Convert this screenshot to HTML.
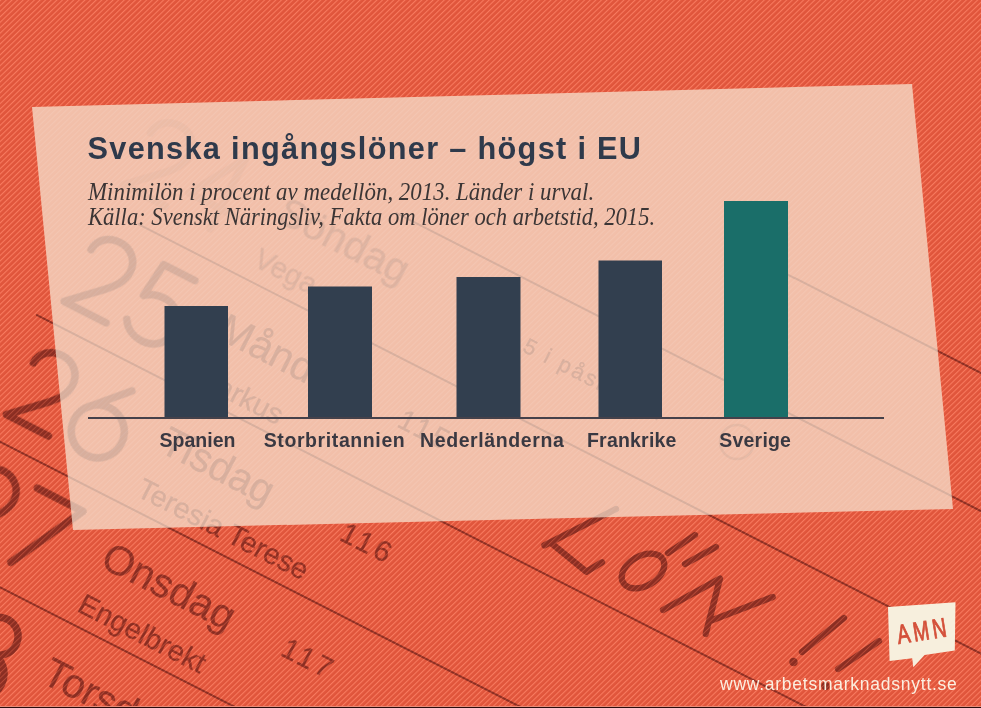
<!DOCTYPE html>
<html><head><meta charset="utf-8">
<style>
html,body{margin:0;padding:0;width:981px;height:708px;overflow:hidden;background:#e2563d;}
svg{display:block;font-family:"Liberation Sans",sans-serif;}
</style></head><body>
<svg width="981" height="708" viewBox="0 0 981 708">
<defs>
<pattern id="str" width="8" height="3.9" patternUnits="userSpaceOnUse" patternTransform="rotate(-44)">
<rect width="8" height="3.9" fill="#e0553b"/>
<rect y="0" width="8" height="1.1" fill="#f87a5f"/>
</pattern>
<pattern id="pstr" width="8" height="3.9" patternUnits="userSpaceOnUse" patternTransform="rotate(-44)">
<rect width="8" height="1.1" fill="#ffffff" fill-opacity="0.1"/>
</pattern>
<pattern id="mstr" width="8" height="3.9" patternUnits="userSpaceOnUse" patternTransform="rotate(-44)">
<rect width="8" height="3.9" fill="#ffffff"/>
<rect y="0" width="8" height="1.1" fill="#a0a0a0"/>
</pattern>
<mask id="mk" maskUnits="userSpaceOnUse" x="0" y="0" width="981" height="708"><rect width="981" height="708" fill="url(#mstr)"/></mask>
<clipPath id="pc"><polygon points="32,107 912,84 953,509 73,530"/></clipPath>
<g id="cal" font-family="Liberation Sans" stroke-linecap="round" stroke-linejoin="round">
<g transform="rotate(27.0)">
<g fill="none" stroke="currentColor" stroke-width="7.5">
<path transform="translate(190,112)" d="M4.5,-62 C5,-74 15,-81.5 27,-81.5 C40,-81.5 49.5,-72 49.5,-60 C49.5,-49 43,-41 35,-33 L4,-3.5 L51,-3.5" opacity="0.22"/><path transform="translate(253,112)" d="M38,-3.5 L38,-81.5 L3,-26 L54,-26" opacity="0.22"/><path transform="translate(190,243)" d="M4.5,-62 C5,-74 15,-81.5 27,-81.5 C40,-81.5 49.5,-72 49.5,-60 C49.5,-49 43,-41 35,-33 L4,-3.5 L51,-3.5"/><path transform="translate(253,243)" d="M48,-81.5 L13,-81.5 L9,-45 C15,-50 22,-52 29,-52 C43,-52 52,-41 52,-27 C52,-13 42,-3.5 28,-3.5 C17,-3.5 9,-9 5,-16"/><path transform="translate(190,370)" d="M4.5,-62 C5,-74 15,-81.5 27,-81.5 C40,-81.5 49.5,-72 49.5,-60 C49.5,-49 43,-41 35,-33 L4,-3.5 L51,-3.5"/><path transform="translate(253,370)" d="M42,-81.5 L9,-46 M56.5,-30 A26.5,26.5 0 1 1 3.5,-30 A26.5,26.5 0 1 1 56.5,-30"/><path transform="translate(190,499.6)" d="M4.5,-62 C5,-74 15,-81.5 27,-81.5 C40,-81.5 49.5,-72 49.5,-60 C49.5,-49 43,-41 35,-33 L4,-3.5 L51,-3.5"/><path transform="translate(253,499.6)" d="M2,-81.5 L53,-81.5 L12,-3.5"/><path transform="translate(190,629.3)" d="M4.5,-62 C5,-74 15,-81.5 27,-81.5 C40,-81.5 49.5,-72 49.5,-60 C49.5,-49 43,-41 35,-33 L4,-3.5 L51,-3.5"/><path transform="translate(258,631.3)" d="M49,-64 A19,19 0 1 1 11,-64 A19,19 0 1 1 49,-64 M54,-22 A24,24 0 1 1 6,-22 A24,24 0 1 1 54,-22"/>
</g>
<g fill="currentColor" stroke="currentColor" stroke-width="0.3">
<text x="345" y="72" font-size="41" opacity="0.75">Söndag</text><text x="345" y="122" font-size="29" opacity="0.75">Vega</text><text x="546" y="69" font-size="29" letter-spacing="3.5">114</text><text x="345" y="203" font-size="41">Måndag</text><text x="345" y="253" font-size="29">Markus</text><text x="546" y="200" font-size="29" letter-spacing="3.5">115</text><text x="345" y="330" font-size="41">Tisdag</text><text x="345" y="380" font-size="29">Teresia Terese</text><text x="546" y="327" font-size="29" letter-spacing="3.5">116</text><text x="345" y="459.6" font-size="41">Onsdag</text><text x="345" y="509.6" font-size="29">Engelbrekt</text><text x="546" y="456.6" font-size="29" letter-spacing="3.5">117</text><text x="345" y="589.3" font-size="41">Torsdag</text><text x="345" y="639.3" font-size="29">Ture Tyra</text><text x="546" y="586.3" font-size="29" letter-spacing="3.5">118</text><text x="624" y="76" font-size="22" letter-spacing="2.5">5 i påsktiden</text>
</g>
<g stroke="currentColor" stroke-width="2">
<line x1="790" y1="-113" x2="1400" y2="-113" stroke="currentColor" stroke-width="2"/><line x1="450" y1="10" x2="1400" y2="10" stroke="currentColor" stroke-width="2"/><line x1="225" y1="137" x2="1400" y2="137" stroke="currentColor" stroke-width="2"/><line x1="176" y1="264" x2="1400" y2="264" stroke="currentColor" stroke-width="2"/><line x1="176" y1="393.6" x2="1400" y2="393.6" stroke="currentColor" stroke-width="2"/><line x1="176" y1="523.3" x2="1400" y2="523.3" stroke="currentColor" stroke-width="2"/>
</g>
</g>
<g fill="none" stroke="currentColor" stroke-width="6.3">

<path d="M616,509 L544.4,545.4"/>
<path d="M551,543 L586.4,571.8 L602,562.2"/>
<ellipse cx="643" cy="571" rx="23" ry="15" transform="rotate(-30 643 571)"/>
<path d="M668,553 L695,535"/>
<path d="M685,564 L716,547"/>
<path d="M663,610 L720,578.5 L705.7,634 M710,621 L772.7,597"/>
<path d="M844,618 L802,652"/>
<circle cx="793.5" cy="662" r="3.5" fill="currentColor" stroke-width="1.5"/>
<path d="M879,641 L838,669"/>
<circle cx="825.5" cy="686" r="3.5" fill="currentColor" stroke-width="1.5"/>
<circle cx="737" cy="442" r="17" stroke-width="2.5" opacity="0.45"/>

</g>
</g>
</defs>
<rect width="981" height="708" fill="url(#str)"/>
<g mask="url(#mk)"><use href="#cal" style="color:#852c21" opacity="0.95"/></g>
<polygon points="32,107 912,84 953,509 73,530" fill="#f2bfa9"/>
<polygon points="32,107 912,84 953,509 73,530" fill="url(#pstr)"/>
<g clip-path="url(#pc)"><use href="#cal" style="color:#4f575c" opacity="0.16"/></g>

<text x="87.5" y="159" font-size="30.7" font-weight="bold" fill="#2f3a4b" letter-spacing="1.31">Svenska ingångslöner – högst i EU</text>
<g font-family="Liberation Serif" font-style="italic" font-size="26" fill="#3b3535">
<text transform="translate(88,200) scale(0.881,1)">Minimilön i procent av medellön, 2013. Länder i urval.</text>
<text transform="translate(88,224.6) scale(0.8686,1)">Källa: Svenskt Näringsliv, Fakta om löner och arbetstid, 2015.</text>
</g>
<g fill="#323f4f">
<rect x="164.5" y="306" width="63.5" height="112"/>
<rect x="308" y="286.5" width="64" height="131.5"/>
<rect x="456.5" y="277" width="64" height="141"/>
<rect x="598.5" y="260.5" width="63.5" height="157.5"/>
</g>
<rect x="724" y="201" width="64" height="217" fill="#1a6e69"/>
<rect x="88" y="417" width="796" height="2" fill="#45414a"/>
<g font-size="19.5" font-weight="bold" fill="#3a3942">
<text x="159.6" y="447.2">Spanien</text>
<text x="263.7" y="447.2" letter-spacing="0.6">Storbritannien</text>
<text x="420" y="447.2" letter-spacing="0.6">Nederländerna</text>
<text x="587" y="447.2" letter-spacing="0.2">Frankrike</text>
<text x="719.3" y="447.2" letter-spacing="0.2">Sverige</text>
</g>

<polygon points="888,607 955.5,602.3 954.8,650.4 924.6,654.9 913.3,667.3 912.2,658.3 889.6,661.1" fill="#f7efdd"/>
<text x="0" y="0" font-size="27" fill="#d4503a" stroke="#d4503a" stroke-width="0.9" letter-spacing="4.5" transform="translate(898.5,644) rotate(-9) scale(0.72,1)">AMN</text>
<text x="720" y="690.2" font-size="17.5" fill="#fbefe0" letter-spacing="0.75">www.arbetsmarknadsnytt.se</text>
<rect x="0" y="706" width="981" height="1" fill="#e88a78"/><rect x="0" y="707" width="981" height="1" fill="#2a0d0d"/>
</svg>
</body></html>
